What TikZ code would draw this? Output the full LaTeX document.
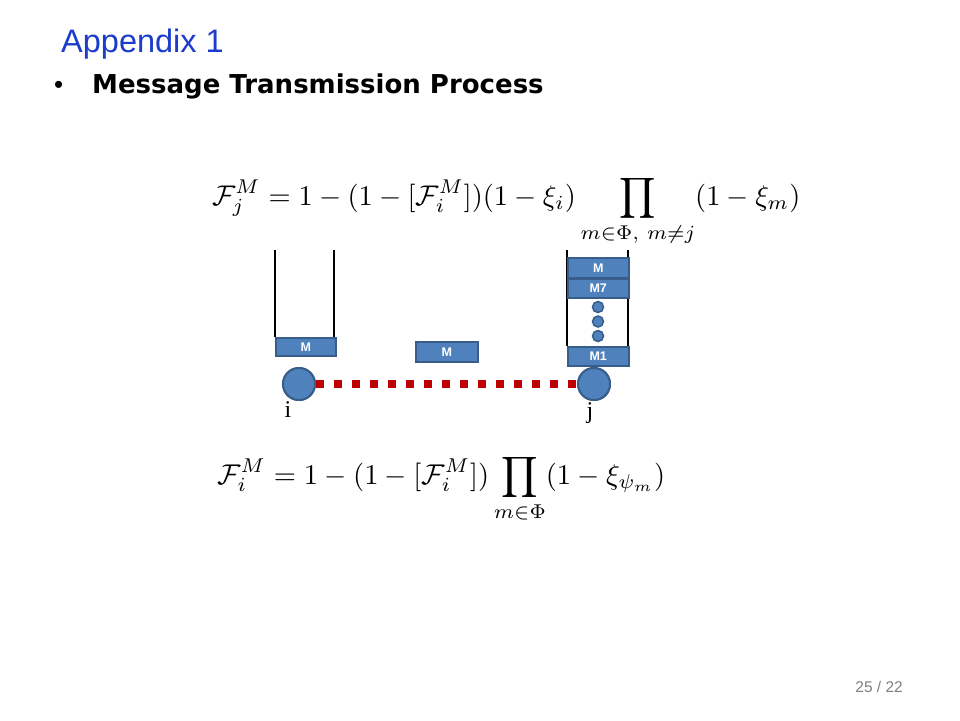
\documentclass[tikz,border=0pt]{standalone}
\usepackage[no-math]{fontspec}
\usepackage{amsmath,graphicx}
\setmainfont{Liberation Sans}
\newfontfamily\djbold{DejaVu Sans}
\newfontfamily\timesf{Liberation Serif}
\definecolor{boxblue}{HTML}{4F81BD}
\definecolor{boxedge}{HTML}{385D8A}
\definecolor{titleblue}{HTML}{1C3DCC}
\definecolor{linkred}{HTML}{C00000}
\tikzset{
  msgbox/.style={draw=boxedge, line width=1.5pt, fill=boxblue, text=white, inner sep=0pt,
    font=\fontsize{12.5}{13}\selectfont\bfseries, anchor=north west},
  peer/.style={circle, draw=boxedge, line width=2pt, fill=boxblue, minimum size=32pt, inner sep=0pt},
  dotnode/.style={circle, draw=boxedge, line width=1.5pt, fill=boxblue, minimum size=11pt, inner sep=0pt},
  queueline/.style={draw=black, line width=1.6pt},
  lbl/.style={font=\timesf\fontsize{24}{26}\selectfont, inner sep=0pt}
}
\begin{document}
\begin{tikzpicture}[x=1pt,y=-1pt]
\useasboundingbox[fill=white] (0,0) rectangle (960,720);
% title
\node[anchor=base west, inner sep=0pt, text=titleblue, font=\fontsize{32.5}{34}\selectfont] (title) at (61,52) {Appendix 1};
\node[anchor=base west, inner sep=0pt, font=\fontsize{26}{28}\selectfont] (bullet) at (54,93) {\textbullet};
\node[anchor=base west, inner sep=0pt, font=\djbold\fontsize{26}{28}\selectfont\bfseries] (sub) at (92,93) {Message Transmission Process};
% formulas
\node[anchor=north west, inner sep=0pt] (f1) at (212,175) {\resizebox{588pt}{!}{$\displaystyle \mathcal{F}_j^M = 1-(1-[\mathcal{F}_i^M])(1-\xi_i)\prod_{m\in\Phi,\ m\neq j}(1-\xi_m)$}};
\node[anchor=north west, inner sep=0pt] (f2) at (217,454) {\resizebox{448pt}{!}{$\displaystyle \mathcal{F}_i^M = 1-(1-[\mathcal{F}_i^M])\prod_{m\in\Phi}(1-\xi_{\psi_m})$}};
% queue i
\coordinate (qiL) at (275,250);
\coordinate (qiR) at (334,250);
\node[msgbox, minimum width=60pt, minimum height=18pt] (mi) at (275,337) {M};
\draw[queueline] (qiL) -- (qiL |- mi.north);
\draw[queueline] (qiR) -- (qiR |- mi.north);
% queue j
\coordinate (qjL) at (567,250);
\coordinate (qjR) at (628,250);
\node[msgbox, minimum width=61pt, minimum height=19pt] (m1) at (567,346) {M1};
\draw[queueline] (qjL) -- (qjL |- m1.north);
\draw[queueline] (qjR) -- (qjR |- m1.north);
\node[msgbox, minimum width=61pt, minimum height=20pt] (mj) at (567,257) {M};
\node[msgbox, minimum width=61pt, minimum height=19pt] (m7) at (567,278) {M7};
\node[dotnode] (d1) at (598,307) {};
\node[dotnode] (d2) at (598,321.5) {};
\node[dotnode] (d3) at (598,336) {};
% in-transit message
\node[msgbox, minimum width=62pt, minimum height=20pt] (mt) at (415,341) {M};
% nodes and link
\node[peer] (i) at (299,384) {};
\node[peer] (j) at (594,384) {};
\draw[linkred, line width=8pt, dash pattern=on 8pt off 10pt] (i.east) -- (j.west);
\node[peer] at (i) {};
\node[peer] at (j) {};
\node[lbl, anchor=base] (li) at (288,417) {i};
\node[lbl, anchor=base] (lj) at (590,418) {j};
% page number
\node[anchor=base east, inner sep=0pt, text=gray, font=\fontsize{15.5}{17}\selectfont] (pg) at (903,692) {25 / 22};
\end{tikzpicture}
\end{document}
